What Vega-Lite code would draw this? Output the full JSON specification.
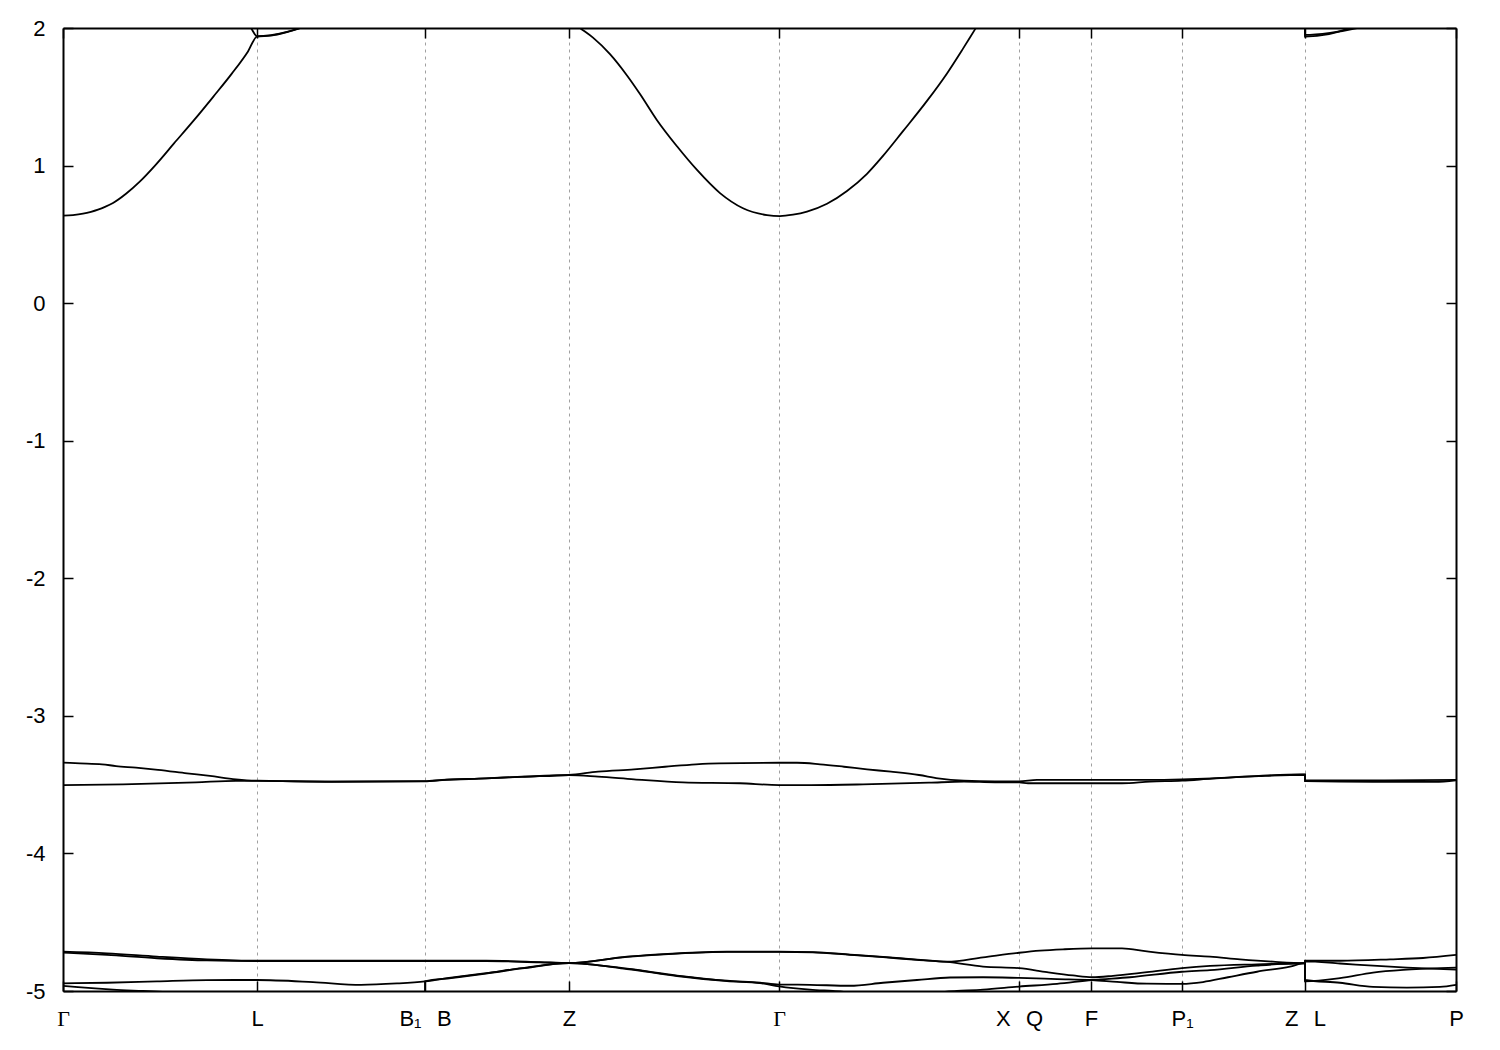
{
  "$schema": "https://vega.github.io/schema/vega-lite/v6.json",
  "width": 1393,
  "height": 963,
  "autosize": {"type": "none"},
  "padding": {"left": 63, "top": 28, "right": 44, "bottom": 59},
  "background": "white",
  "config": {
    "view": {"stroke": null},
    "axis": {
      "labelFont": "Liberation Sans",
      "labelFontSize": 22,
      "labelColor": "black",
      "tickColor": "black",
      "tickWidth": 1.5,
      "domainColor": "black",
      "domainWidth": 2,
      "title": null
    }
  },
  "resolve": {"axis": {"x": "independent", "y": "independent"}},
  "layer": [
    {
      "mark": {"type": "rule", "color": "#4aa8de", "strokeWidth": 1.5},
      "encoding": {
        "x": {"datum": 0, "type": "quantitative", "scale": {"domain": [0, 1393], "nice": false, "zero": false},
              "axis": {"orient": "top", "values": [0, 194, 362, 506, 716, 956, 1028, 1119, 1242, 1393], "labels": false, "grid": false, "tickSize": -10}},
        "x2": {"datum": 1393},
        "y": {"datum": 0, "type": "quantitative", "scale": {"domain": [-5, 2], "nice": false, "zero": false},
              "axis": {"orient": "right", "values": [-5, -4, -3, -2, -1, 0, 1, 2], "labels": false, "grid": false, "tickSize": -10}}
      }
    },
    {
      "data": {"values": [
        {"b":"v1","k":0,"e":-4.714},{"b":"v1","k":44,"e":-4.726},{"b":"v1","k":94,"e":-4.75},{"b":"v1","k":144,"e":-4.77},{"b":"v1","k":194,"e":-4.78},{"b":"v1","k":270,"e":-4.78},{"b":"v1","k":362,"e":-4.78},{"b":"v1","k":423,"e":-4.78},{"b":"v1","k":477,"e":-4.79},{"b":"v1","k":506,"e":-4.797},{"b":"v1","k":564,"e":-4.75},{"b":"v1","k":614,"e":-4.726},{"b":"v1","k":664,"e":-4.714},{"b":"v1","k":716,"e":-4.714},{"b":"v1","k":750,"e":-4.717},{"b":"v1","k":787,"e":-4.735},{"b":"v1","k":820,"e":-4.752},{"b":"v1","k":854,"e":-4.772},{"b":"v1","k":884,"e":-4.787},{"b":"v1","k":920,"e":-4.755},{"b":"v1","k":956,"e":-4.722},{"b":"v1","k":977,"e":-4.707},{"b":"v1","k":1000,"e":-4.697},{"b":"v1","k":1029,"e":-4.69},{"b":"v1","k":1059,"e":-4.69},{"b":"v1","k":1084,"e":-4.712},{"b":"v1","k":1119,"e":-4.738},{"b":"v1","k":1147,"e":-4.75},{"b":"v1","k":1177,"e":-4.77},{"b":"v1","k":1210,"e":-4.787},{"b":"v1","k":1242,"e":-4.797},{"b":"v1","k":1242,"e":-4.78},{"b":"v1","k":1277,"e":-4.78},{"b":"v1","k":1327,"e":-4.77},{"b":"v1","k":1360,"e":-4.76},{"b":"v1","k":1393,"e":-4.738},
        {"b":"v2","k":0,"e":-4.72},{"b":"v2","k":44,"e":-4.738},{"b":"v2","k":94,"e":-4.762},{"b":"v2","k":144,"e":-4.778},{"b":"v2","k":194,"e":-4.782},{"b":"v2","k":270,"e":-4.782},{"b":"v2","k":362,"e":-4.782},{"b":"v2","k":423,"e":-4.782},{"b":"v2","k":477,"e":-4.792},{"b":"v2","k":506,"e":-4.797},{"b":"v2","k":564,"e":-4.752},{"b":"v2","k":614,"e":-4.728},{"b":"v2","k":664,"e":-4.716},{"b":"v2","k":716,"e":-4.716},{"b":"v2","k":750,"e":-4.719},{"b":"v2","k":787,"e":-4.737},{"b":"v2","k":820,"e":-4.754},{"b":"v2","k":854,"e":-4.774},{"b":"v2","k":884,"e":-4.789},{"b":"v2","k":920,"e":-4.823},{"b":"v2","k":956,"e":-4.834},{"b":"v2","k":984,"e":-4.863},{"b":"v2","k":1010,"e":-4.887},{"b":"v2","k":1029,"e":-4.9},{"b":"v2","k":1050,"e":-4.89},{"b":"v2","k":1084,"e":-4.863},{"b":"v2","k":1119,"e":-4.834},{"b":"v2","k":1147,"e":-4.818},{"b":"v2","k":1194,"e":-4.806},{"b":"v2","k":1242,"e":-4.797},{"b":"v2","k":1242,"e":-4.785},{"b":"v2","k":1277,"e":-4.8},{"b":"v2","k":1310,"e":-4.816},{"b":"v2","k":1344,"e":-4.83},{"b":"v2","k":1393,"e":-4.845},
        {"b":"v3","k":0,"e":-4.944},{"b":"v3","k":44,"e":-4.94},{"b":"v3","k":94,"e":-4.93},{"b":"v3","k":144,"e":-4.921},{"b":"v3","k":194,"e":-4.92},{"b":"v3","k":250,"e":-4.935},{"b":"v3","k":298,"e":-4.955},{"b":"v3","k":334,"e":-4.945},{"b":"v3","k":362,"e":-4.93},{"b":"v3","k":388,"e":-4.903},{"b":"v3","k":423,"e":-4.87},{"b":"v3","k":459,"e":-4.834},{"b":"v3","k":506,"e":-4.797},{"b":"v3","k":564,"e":-4.838},{"b":"v3","k":614,"e":-4.888},{"b":"v3","k":664,"e":-4.925},{"b":"v3","k":697,"e":-4.94},{"b":"v3","k":716,"e":-4.953},{"b":"v3","k":747,"e":-4.955},{"b":"v3","k":787,"e":-4.962},{"b":"v3","k":820,"e":-4.94},{"b":"v3","k":854,"e":-4.92},{"b":"v3","k":887,"e":-4.902},{"b":"v3","k":920,"e":-4.9},{"b":"v3","k":956,"e":-4.905},{"b":"v3","k":994,"e":-4.913},{"b":"v3","k":1029,"e":-4.92},{"b":"v3","k":1054,"e":-4.934},{"b":"v3","k":1084,"e":-4.947},{"b":"v3","k":1119,"e":-4.948},{"b":"v3","k":1140,"e":-4.935},{"b":"v3","k":1165,"e":-4.9},{"b":"v3","k":1194,"e":-4.86},{"b":"v3","k":1227,"e":-4.823},{"b":"v3","k":1242,"e":-4.797},{"b":"v3","k":1242,"e":-4.93},{"b":"v3","k":1277,"e":-4.907},{"b":"v3","k":1310,"e":-4.866},{"b":"v3","k":1344,"e":-4.845},{"b":"v3","k":1393,"e":-4.83},
        {"b":"v4","k":0,"e":-4.962},{"b":"v4","k":15,"e":-4.972},{"b":"v4","k":50,"e":-4.99},{"b":"v4","k":80,"e":-5.0},{"b":"v4","k":110,"e":-5.01},{"b":"v4","k":194,"e":-5.04},{"b":"v4","k":300,"e":-5.05},{"b":"v4","k":362,"e":-5.05},{"b":"v4","k":362,"e":-4.93},{"b":"v4","k":388,"e":-4.906},{"b":"v4","k":423,"e":-4.873},{"b":"v4","k":459,"e":-4.836},{"b":"v4","k":506,"e":-4.797},{"b":"v4","k":564,"e":-4.84},{"b":"v4","k":614,"e":-4.891},{"b":"v4","k":664,"e":-4.928},{"b":"v4","k":697,"e":-4.943},{"b":"v4","k":716,"e":-4.966},{"b":"v4","k":747,"e":-4.99},{"b":"v4","k":770,"e":-5.0},{"b":"v4","k":800,"e":-5.015},{"b":"v4","k":860,"e":-5.015},{"b":"v4","k":894,"e":-5.0},{"b":"v4","k":920,"e":-4.99},{"b":"v4","k":956,"e":-4.968},{"b":"v4","k":994,"e":-4.948},{"b":"v4","k":1029,"e":-4.92},{"b":"v4","k":1067,"e":-4.9},{"b":"v4","k":1119,"e":-4.86},{"b":"v4","k":1147,"e":-4.848},{"b":"v4","k":1194,"e":-4.815},{"b":"v4","k":1242,"e":-4.797},{"b":"v4","k":1242,"e":-4.92},{"b":"v4","k":1277,"e":-4.94},{"b":"v4","k":1310,"e":-4.97},{"b":"v4","k":1344,"e":-4.975},{"b":"v4","k":1377,"e":-4.97},{"b":"v4","k":1393,"e":-4.955},
        {"b":"v5","k":0,"e":-3.34},{"b":"v5","k":17,"e":-3.345},{"b":"v5","k":39,"e":-3.352},{"b":"v5","k":53,"e":-3.365},{"b":"v5","k":73,"e":-3.377},{"b":"v5","k":95,"e":-3.393},{"b":"v5","k":124,"e":-3.418},{"b":"v5","k":147,"e":-3.437},{"b":"v5","k":173,"e":-3.461},{"b":"v5","k":194,"e":-3.471},{"b":"v5","k":269,"e":-3.478},{"b":"v5","k":362,"e":-3.475},{"b":"v5","k":379,"e":-3.466},{"b":"v5","k":423,"e":-3.454},{"b":"v5","k":459,"e":-3.442},{"b":"v5","k":506,"e":-3.43},{"b":"v5","k":535,"e":-3.406},{"b":"v5","k":571,"e":-3.389},{"b":"v5","k":602,"e":-3.37},{"b":"v5","k":633,"e":-3.352},{"b":"v5","k":656,"e":-3.345},{"b":"v5","k":716,"e":-3.341},{"b":"v5","k":734,"e":-3.341},{"b":"v5","k":757,"e":-3.352},{"b":"v5","k":781,"e":-3.37},{"b":"v5","k":804,"e":-3.389},{"b":"v5","k":828,"e":-3.406},{"b":"v5","k":856,"e":-3.43},{"b":"v5","k":875,"e":-3.454},{"b":"v5","k":901,"e":-3.471},{"b":"v5","k":932,"e":-3.476},{"b":"v5","k":956,"e":-3.476},{"b":"v5","k":974,"e":-3.466},{"b":"v5","k":1087,"e":-3.466},{"b":"v5","k":1119,"e":-3.462},{"b":"v5","k":1149,"e":-3.454},{"b":"v5","k":1196,"e":-3.436},{"b":"v5","k":1238,"e":-3.426},{"b":"v5","k":1242,"e":-3.426},{"b":"v5","k":1242,"e":-3.469},{"b":"v5","k":1295,"e":-3.469},{"b":"v5","k":1393,"e":-3.466},
        {"b":"v6","k":0,"e":-3.503},{"b":"v6","k":60,"e":-3.498},{"b":"v6","k":133,"e":-3.483},{"b":"v6","k":173,"e":-3.472},{"b":"v6","k":194,"e":-3.472},{"b":"v6","k":269,"e":-3.479},{"b":"v6","k":362,"e":-3.476},{"b":"v6","k":379,"e":-3.467},{"b":"v6","k":423,"e":-3.455},{"b":"v6","k":459,"e":-3.443},{"b":"v6","k":506,"e":-3.431},{"b":"v6","k":535,"e":-3.442},{"b":"v6","k":571,"e":-3.461},{"b":"v6","k":620,"e":-3.483},{"b":"v6","k":677,"e":-3.49},{"b":"v6","k":716,"e":-3.503},{"b":"v6","k":748,"e":-3.503},{"b":"v6","k":800,"e":-3.498},{"b":"v6","k":866,"e":-3.486},{"b":"v6","k":901,"e":-3.478},{"b":"v6","k":932,"e":-3.483},{"b":"v6","k":956,"e":-3.483},{"b":"v6","k":965,"e":-3.49},{"b":"v6","k":1059,"e":-3.49},{"b":"v6","k":1087,"e":-3.478},{"b":"v6","k":1119,"e":-3.471},{"b":"v6","k":1149,"e":-3.456},{"b":"v6","k":1196,"e":-3.438},{"b":"v6","k":1242,"e":-3.428},{"b":"v6","k":1242,"e":-3.475},{"b":"v6","k":1310,"e":-3.48},{"b":"v6","k":1372,"e":-3.48},{"b":"v6","k":1393,"e":-3.468},
        {"b":"c7","k":0,"e":0.636},{"b":"c7","k":10,"e":0.64},{"b":"c7","k":20,"e":0.65},{"b":"c7","k":28,"e":0.664},{"b":"c7","k":35,"e":0.68},{"b":"c7","k":42,"e":0.70},{"b":"c7","k":50,"e":0.728},{"b":"c7","k":63,"e":0.795},{"b":"c7","k":77,"e":0.885},{"b":"c7","k":92,"e":1.0},{"b":"c7","k":111,"e":1.161},{"b":"c7","k":131,"e":1.33},{"b":"c7","k":150,"e":1.498},{"b":"c7","k":169,"e":1.67},{"b":"c7","k":185,"e":1.83},{"b":"c7","k":194,"e":1.937},{"b":"c7","k":208,"e":1.944},{"b":"c7","k":224,"e":1.97},{"b":"c7","k":238,"e":2.0},{"b":"c7","k":260,"e":2.06},{"b":"c7","k":300,"e":2.2},{"b":"c7","k":362,"e":2.4},{"b":"c7","k":450,"e":2.3},{"b":"c7","k":506,"e":2.06},{"b":"c7","k":517,"e":2.0},{"b":"c7","k":530,"e":1.93},{"b":"c7","k":547,"e":1.81},{"b":"c7","k":564,"e":1.655},{"b":"c7","k":577,"e":1.52},{"b":"c7","k":594,"e":1.33},{"b":"c7","k":614,"e":1.14},{"b":"c7","k":634,"e":0.968},{"b":"c7","k":657,"e":0.8},{"b":"c7","k":680,"e":0.69},{"b":"c7","k":704,"e":0.64},{"b":"c7","k":717,"e":0.633},{"b":"c7","k":730,"e":0.643},{"b":"c7","k":744,"e":0.665},{"b":"c7","k":764,"e":0.722},{"b":"c7","k":784,"e":0.815},{"b":"c7","k":804,"e":0.94},{"b":"c7","k":820,"e":1.07},{"b":"c7","k":840,"e":1.25},{"b":"c7","k":864,"e":1.47},{"b":"c7","k":884,"e":1.67},{"b":"c7","k":900,"e":1.85},{"b":"c7","k":912,"e":1.99},{"b":"c7","k":925,"e":2.14},{"b":"c7","k":956,"e":2.4},{"b":"c7","k":1242,"e":2.5},{"b":"c7","k":1242,"e":1.937},{"b":"c7","k":1266,"e":1.955},{"b":"c7","k":1287,"e":2.0},{"b":"c7","k":1320,"e":2.1},{"b":"c7","k":1393,"e":2.3},
        {"b":"c8","k":0,"e":2.9},{"b":"c8","k":100,"e":2.6},{"b":"c8","k":170,"e":2.2},{"b":"c8","k":188,"e":2.0},{"b":"c8","k":194,"e":1.94},{"b":"c8","k":208,"e":1.948},{"b":"c8","k":224,"e":1.972},{"b":"c8","k":238,"e":2.002},{"b":"c8","k":260,"e":2.06},{"b":"c8","k":362,"e":2.4},{"b":"c8","k":506,"e":2.5},{"b":"c8","k":716,"e":2.6},{"b":"c8","k":956,"e":2.6},{"b":"c8","k":1242,"e":2.6},{"b":"c8","k":1242,"e":1.95},{"b":"c8","k":1267,"e":1.965},{"b":"c8","k":1294,"e":2.0},{"b":"c8","k":1393,"e":2.3}
      ]},
      "mark": {"type": "line", "color": "black", "strokeWidth": 1.8, "clip": true, "interpolate": "monotone"},
      "encoding": {
        "x": {"field": "k", "type": "quantitative", "scale": {"domain": [0, 1393], "nice": false, "zero": false},
              "axis": {"orient": "bottom", "values": [0, 194, 362, 506, 716, 956, 1028, 1119, 1242, 1393],
                       "labelExpr": "{'0':'Γ','194':'L','362':'B₁\u2002\u2009B','506':'Z','716':'Γ','956':'X\u2002\u2009Q','1028':'F','1119':'P₁','1242':'Z\u2002\u2009L','1393':'P'}[''+datum.value]",
                       "labelFont": {"condition": {"test": "datum.value == 0 || datum.value == 716", "value": "Liberation Serif"}, "value": "Liberation Sans"},
                       "labelPadding": 27, "labelFlush": false, "labelOverlap": false, "tickSize": -10,
                       "grid": true, "gridColor": "#a0a0a0", "gridDash": [3, 4], "gridWidth": 1}},
        "y": {"field": "e", "type": "quantitative", "scale": {"domain": [-5, 2], "nice": false, "zero": false},
              "axis": {"orient": "left", "values": [-5, -4, -3, -2, -1, 0, 1, 2], "labelExpr": "'' + datum.value",
                       "labelPadding": 28, "tickSize": -10, "grid": false}},
        "detail": {"field": "b"},
        "order": {"value": null}
      }
    }
  ]
}
